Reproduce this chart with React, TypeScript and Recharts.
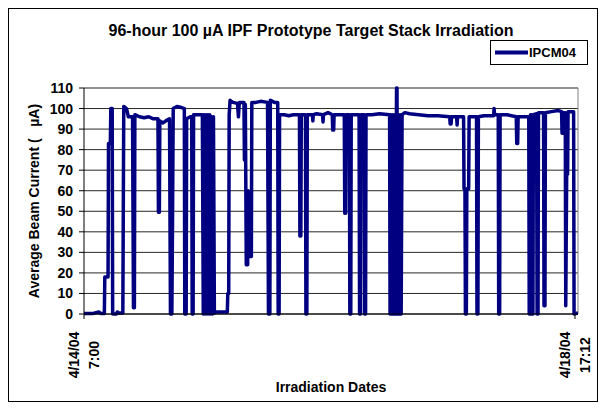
import React from 'react';
import { LineChart, Line, XAxis, YAxis, CartesianGrid, Legend, ReferenceLine } from 'recharts';

// hours since 4/14/04 7:00
const hours = [
    0, 2, 3.2, 3.6, 4.4, 4.5, 5.2, 5.3, 5.7, 5.8, 6.1, 6.2, 7.0, 7.2, 7.5, 8.4, 8.6, 9.2, 9.6, 10.5,
    10.7, 10.9, 11.0, 12.0, 13.0, 14.0, 15.0, 16.0, 16.1, 16.3, 16.4, 17.1, 17.7, 18.5, 18.7, 19.0, 19.1, 19.3, 20.1, 21.1,
    21.7, 21.8, 22.1, 22.2, 23.0, 23.3, 23.4, 23.6, 23.7, 24.7, 25.6, 25.8, 26.0, 26.2, 26.4, 26.6, 26.8, 27.0, 27.2, 27.4,
    27.6, 27.8, 28.0, 28.2, 28.4, 31.0, 31.1, 31.3, 31.4, 31.6, 32.2, 33.2, 33.4, 33.6, 34.6, 34.7, 34.9, 35.1, 35.4, 35.5,
    35.7, 36.2, 36.3, 37.2, 38.2, 39.7, 39.9, 40.2, 40.3, 41.2, 41.9, 42.0, 42.2, 42.3, 43.3, 44.3, 45.3, 46.6, 46.7, 46.9,
    47.0, 47.9, 48.0, 48.2, 48.3, 49.4, 49.5, 49.6, 50.3, 51.6, 51.7, 51.8, 52.8, 53.7, 53.8, 54.0, 54.1, 55.3, 56.3, 56.4,
    56.6, 56.7, 57.4, 57.5, 57.7, 57.8, 59.5, 59.6, 59.8, 59.9, 60.6, 60.7, 60.9, 61.0, 62.3, 63.9, 66.1, 66.2, 66.4, 66.6,
    66.8, 67.0, 67.2, 67.4, 67.6, 67.7, 67.8, 68.0, 68.2, 68.4, 68.6, 68.8, 69.4, 70.4, 72.4, 74.4, 76.5, 79.1, 79.2, 79.4,
    79.5, 80.6, 80.7, 80.8, 82.1, 82.2, 82.4, 82.5, 82.7, 82.8, 83.2, 83.3, 84.9, 85.0, 85.2, 85.3, 86.5, 88.6, 88.7, 88.8,
    89.6, 89.7, 89.9, 90.0, 91.5, 93.5, 93.6, 93.8, 93.9, 96.2, 96.3, 96.5, 96.6, 96.8, 96.9, 97.1, 97.2, 97.9, 98.0, 98.2,
    98.3, 99.4, 99.5, 99.7, 99.8, 101.1, 102.6, 103.3, 103.4, 103.6, 103.7, 104.1, 104.2, 104.4, 104.6, 104.7, 105.9, 106.0, 106.85,
];

// IPCM04 average beam current (uA)
const current = [
    0.3, 0.3, 1, 0.3, 0.3, 18, 18, 83, 83, 100, 100, 0, 0, 1, 0.5, 0.5, 101, 100, 96, 96,
    3, 3, 97, 96, 95.5, 96, 95, 95, 49.5, 49.5, 94, 93, 94, 95, 0, 0, 30, 100, 101, 100.5,
    100, 0, 0, 95, 96, 96, 0, 0, 97, 97, 97, 0, 97, 0, 97, 0, 97, 0, 97, 0,
    96, 0, 96, 0.5, 1, 1, 10, 10, 97, 104, 103, 102.5, 96, 103, 103, 75, 102, 24, 24, 60,
    28, 28, 103, 103, 103.5, 103, 0, 0, 104, 103, 103, 0, 0, 97, 97, 96.5, 97, 97, 38, 38,
    97, 97, 0, 0, 97, 97, 94, 97, 97.5, 97, 93.5, 97, 98, 97, 89.5, 89.5, 97, 97, 97, 49,
    49, 97, 97, 0, 0, 97, 97, 0, 0, 97, 97, 0, 0, 97, 97, 97.5, 97, 0, 97, 0,
    97, 0, 97, 0, 110, 110, 0, 97, 0, 97, 0, 97, 98, 97.5, 97, 96.5, 96.5, 96, 92.5, 92.5,
    96, 96, 92, 96, 96, 61, 61, 0, 0, 61, 61, 96, 96, 0, 0, 96, 96.5, 96.5, 100, 97,
    97, 0, 0, 97, 97, 96, 83, 83, 96, 96, 0, 0, 97, 97, 0, 0, 97, 97.5, 0, 0,
    98, 98, 4, 4, 98, 98.5, 99, 98.5, 88, 88, 98, 98, 4, 68, 68, 98.5, 98.5, 0, 0.5,
];

const yTicks = [0, 10, 20, 30, 40, 50, 60, 70, 80, 90, 100, 110];
const xTickHours = [0, 106.2];
const xTickLines: Record<string, string[]> = {
    '0': ['4/14/04', '7:00'],
    '106.2': ['4/18/04', '17:12'],
};
const xEnd = 106.85;

const seriesName = 'IPCM04';
const chartTitle = '96-hour 100 \u00b5A IPF Prototype Target Stack Irradiation';
const yTitle = 'Average Beam Current (   \u00b5A)';
const xTitle = 'Irradiation Dates';

const data = hours.map((h, i) => ({ h, value: current[i] }));

const FONT = '"Liberation Sans", Arial, sans-serif';
const NAVY = '#000080';

function DateTick(props: any) {
    const { x, y, payload } = props;
    const lines = xTickLines[String(payload.value)] || [];
    return (
        <g transform={`translate(${x},${y + 34})`}>
            <text
                transform="rotate(-90)"
                textAnchor="middle"
                fontFamily={FONT}
                fontSize={14}
                fontWeight="bold"
                fill="#000"
            >
                {lines.map((ln, i) => (
                    <tspan key={i} x={0} y={i === 0 ? -5 : 15}>{ln}</tspan>
                ))}
            </text>
        </g>
    );
}

function LegendBox() {
    return (
        <div style={{
            width: 96, height: 23, border: '1px solid #000', background: '#fff',
            display: 'flex', alignItems: 'center', fontFamily: FONT, fontSize: 13, fontWeight: 'bold',
        }}>
            <svg width={38} height={23}>
                <line x1={4} y1={11.5} x2={37} y2={11.5} stroke={NAVY} strokeWidth={4} />
            </svg>
            <span>{seriesName}</span>
        </div>
    );
}

export default function App() {
    return (
        <div style={{ position: 'absolute', left: 0, top: 0, width: 609, height: 410, background: '#fff' }}>
            <div style={{
                position: 'absolute', left: 8, top: 8, width: 590, height: 394,
                border: '1px solid #000', boxSizing: 'border-box',
            }} />
            <div style={{
                position: 'absolute', left: 0, top: 22, width: 622, textAlign: 'center',
                fontFamily: FONT, fontSize: 16, fontWeight: 'bold', whiteSpace: 'pre',
            }}>
                {chartTitle}
            </div>
            <div style={{
                position: 'absolute', left: 84, top: 379, width: 494, textAlign: 'center',
                fontFamily: FONT, fontSize: 14, fontWeight: 'bold',
            }}>
                {xTitle}
            </div>
            <LineChart
                width={609}
                height={410}
                data={data}
                margin={{ top: 63, right: 31, bottom: 0, left: 0 }}
                style={{ position: 'absolute', left: 0, top: 0 }}
            >
                <CartesianGrid vertical={false} stroke="#000" strokeOpacity={0.85} />
                <XAxis
                    type="number"
                    dataKey="h"
                    domain={[0, xEnd]}
                    ticks={xTickHours}
                    interval={0}
                    height={96}
                    tickSize={5}
                    tick={<DateTick />}
                    axisLine={{ stroke: '#000' }}
                    tickLine={{ stroke: '#000' }}
                    allowDataOverflow
                />
                <YAxis
                    type="number"
                    domain={[0, 110]}
                    ticks={yTicks}
                    interval={0}
                    width={84}
                    tickSize={5}
                    tickMargin={6}
                    axisLine={{ stroke: '#000' }}
                    tickLine={{ stroke: '#000' }}
                    tick={{ fill: '#000', fontFamily: FONT, fontSize: 14, fontWeight: 'bold' }}
                    label={{
                        content: (p: any) => {
                            const vb = p.viewBox || { x: 0, y: 63, width: 84, height: 251 };
                            const cx = vb.x + 34;
                            const cy = vb.y + vb.height / 2;
                            return (
                                <text
                                    x={cx}
                                    y={cy}
                                    transform={`rotate(-90, ${cx}, ${cy})`}
                                    textAnchor="middle"
                                    dominantBaseline="central"
                                    fontFamily={FONT}
                                    fontSize={14}
                                    fontWeight="bold"
                                    fill="#000"
                                    style={{ whiteSpace: 'pre' }}
                                >
                                    {yTitle}
                                </text>
                            );
                        },
                    }}
                />
                <ReferenceLine x={xEnd} stroke="#808080" ifOverflow="visible" />
                <Legend
                    verticalAlign="top"
                    align="right"
                    content={<LegendBox />}
                    wrapperStyle={{ position: 'absolute', left: 490, top: 40, width: 98 }}
                />
                <Line
                    type="linear"
                    dataKey="value"
                    name={seriesName}
                    stroke={NAVY}
                    strokeWidth={3.5}
                    strokeLinejoin="round"
                    dot={false}
                    isAnimationActive={false}
                />
            </LineChart>
        </div>
    );
}
